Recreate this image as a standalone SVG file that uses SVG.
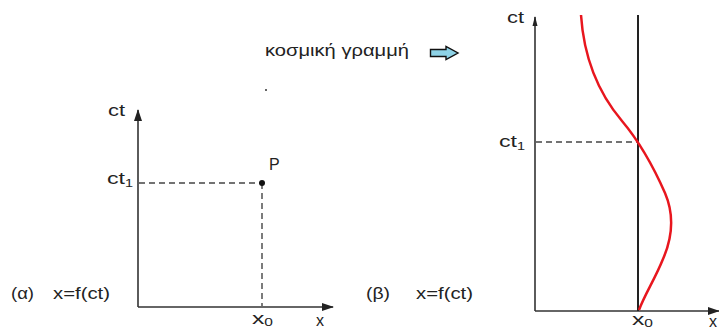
<svg xmlns="http://www.w3.org/2000/svg" width="719" height="330" viewBox="0 0 719 330">
<style>
text{font-family:"Liberation Sans",Arial,sans-serif;fill:#222;font-size:16px}
.ax{stroke:#333;stroke-width:1.6;fill:none}
.dash{stroke:#444;stroke-width:1.4;fill:none;stroke-dasharray:6 4}
.sub{font-size:10px}
</style>
<defs>
<marker id="arr" markerWidth="12" markerHeight="8" refX="11" refY="4" orient="auto" markerUnits="userSpaceOnUse">
<path d="M0,0 L12,4 L0,8 Z" fill="#222"/>
</marker>
<marker id="arrThin" markerWidth="10" markerHeight="6" refX="9" refY="3" orient="auto" markerUnits="userSpaceOnUse">
<path d="M0,0.5 L10,3 L0,5.5 Z" fill="#222"/>
</marker>
</defs>
<rect width="719" height="330" fill="#fff"/>

<g id="title">
<text x="265" y="56" font-size="17" textLength="144" lengthAdjust="spacingAndGlyphs">κοσμική γραμμή</text>
<path d="M430.5,49.5 H446 V46.5 L458,53 L446,59.5 V56.5 H430.5 Z" fill="#8ed2e6" stroke="#111" stroke-width="1.4" stroke-linejoin="miter"/>
<circle cx="266" cy="90" r="1" fill="#333"/>
</g>

<g id="connectors">
<!-- left axes -->
<line class="ax" x1="138" y1="307" x2="138" y2="110" marker-end="url(#arr)"/>
<line class="ax" x1="138" y1="307" x2="333" y2="307" marker-end="url(#arr)"/>
<line class="dash" x1="139" y1="183" x2="262" y2="183"/>
<line class="dash" x1="262" y1="183" x2="262" y2="306"/>
<!-- right axes -->
<line class="ax" x1="535" y1="311" x2="535" y2="17" marker-end="url(#arrThin)"/>
<line class="ax" x1="535" y1="311" x2="719" y2="311" marker-end="url(#arr)"/>
<line x1="638" y1="15" x2="638" y2="311" stroke="#222" stroke-width="2"/>
<line class="dash" x1="536" y1="142" x2="638" y2="142"/>
<path d="M581,15 C584,60 600,95 622,121 C638,140 654,168 665,193 C674,214 673,236 663,259 C655,279 645,294 639,310" fill="none" stroke="#e8161e" stroke-width="2.5"/>
</g>

<g id="node-left">
<text x="108" y="116" textLength="17" lengthAdjust="spacingAndGlyphs">ct</text>
<text x="107" y="184" textLength="26" lengthAdjust="spacingAndGlyphs">ct<tspan class="sub" dy="3">1</tspan></text>
<circle id="P" cx="262" cy="183" r="3" fill="#111"/>
<text x="269" y="170" font-size="17">P</text>
<text x="252" y="324" textLength="21" lengthAdjust="spacingAndGlyphs">x<tspan class="sub" dy="2">0</tspan></text>
<text x="316" y="326">x</text>
<text x="11" y="299" font-size="17" textLength="23" lengthAdjust="spacingAndGlyphs">(α)</text>
<text x="53" y="299" font-size="17" textLength="57" lengthAdjust="spacingAndGlyphs">x=f(ct)</text>
</g>

<g id="node-right">
<text x="507" y="23" textLength="17" lengthAdjust="spacingAndGlyphs">ct</text>
<text x="499" y="147" textLength="26" lengthAdjust="spacingAndGlyphs">ct<tspan class="sub" dy="3">1</tspan></text>
<text x="632" y="325" textLength="21" lengthAdjust="spacingAndGlyphs">x<tspan class="sub" dy="2">0</tspan></text>
<text x="709" y="327">x</text>
<text x="366" y="299" font-size="17" textLength="24" lengthAdjust="spacingAndGlyphs">(β)</text>
<text x="416" y="299" font-size="17" textLength="57" lengthAdjust="spacingAndGlyphs">x=f(ct)</text>
</g>
</svg>
